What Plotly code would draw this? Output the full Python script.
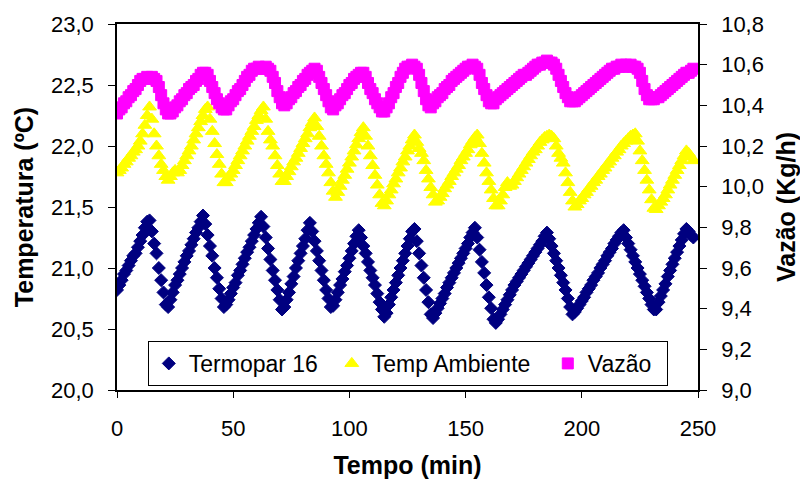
import plotly.graph_objects as go

# Time in minutes (one reading per minute)
tempo = list(range(0, 249))

termopar_16 = [
    20.82, 20.86, 20.90, 20.95, 20.98, 21.02, 21.06, 21.10, 21.12, 21.17,   # 0-9
    21.22, 21.27, 21.33, 21.38, 21.39, 21.30, 21.20, 21.12, 21.00, 20.90,   # 10-19
    20.80, 20.70, 20.68, 20.74, 20.80, 20.86, 20.90, 20.95, 21.00, 21.05,   # 20-29
    21.10, 21.14, 21.19, 21.24, 21.29, 21.33, 21.38, 21.43, 21.36, 21.27,   # 30-39
    21.18, 21.10, 21.00, 20.92, 20.83, 20.75, 20.68, 20.70, 20.74, 20.79,   # 40-49
    20.84, 20.88, 20.94, 20.98, 21.03, 21.08, 21.13, 21.17, 21.22, 21.27,   # 50-59
    21.32, 21.37, 21.42, 21.34, 21.25, 21.16, 21.07, 20.98, 20.90, 20.82,   # 60-69
    20.74, 20.66, 20.68, 20.74, 20.80, 20.87, 20.93, 21.00, 21.06, 21.12,   # 70-79
    21.18, 21.24, 21.31, 21.37, 21.30, 21.22, 21.14, 21.06, 20.98, 20.90,   # 80-89
    20.82, 20.75, 20.68, 20.69, 20.74, 20.80, 20.86, 20.91, 20.97, 21.02,   # 90-99
    21.08, 21.14, 21.20, 21.26, 21.31, 21.25, 21.18, 21.12, 21.05, 20.98,   # 100-109
    20.92, 20.86, 20.79, 20.72, 20.66, 20.60, 20.63, 20.70, 20.76, 20.82,   # 110-119
    20.88, 20.94, 21.00, 21.06, 21.12, 21.18, 21.24, 21.30, 21.32, 21.22,   # 120-129
    21.12, 21.02, 20.92, 20.82, 20.72, 20.62, 20.59, 20.63, 20.67, 20.71,   # 130-139
    20.75, 20.79, 20.84, 20.88, 20.92, 20.96, 21.00, 21.04, 21.08, 21.12,   # 140-149
    21.16, 21.20, 21.25, 21.29, 21.33, 21.25, 21.15, 21.05, 20.96, 20.86,   # 150-159
    20.76, 20.67, 20.58, 20.55, 20.58, 20.62, 20.66, 20.70, 20.74, 20.78,   # 160-169
    20.82, 20.86, 20.89, 20.92, 20.95, 20.98, 21.01, 21.04, 21.07, 21.10,   # 170-179
    21.13, 21.16, 21.19, 21.22, 21.26, 21.29, 21.24, 21.18, 21.12, 21.06,   # 180-189
    21.00, 20.94, 20.88, 20.82, 20.75, 20.68, 20.62, 20.64, 20.67, 20.70,   # 190-199
    20.73, 20.76, 20.80, 20.83, 20.86, 20.90, 20.93, 20.96, 21.00, 21.03,   # 200-209
    21.06, 21.10, 21.13, 21.16, 21.20, 21.23, 21.26, 21.29, 21.31, 21.25,   # 210-219
    21.20, 21.15, 21.10, 21.05, 21.00, 20.95, 20.90, 20.85, 20.80, 20.75,   # 220-229
    20.70, 20.66, 20.66, 20.72, 20.77, 20.82, 20.87, 20.93, 20.98, 21.03,   # 230-239
    21.08, 21.13, 21.18, 21.23, 21.28, 21.32, 21.30, 21.27, 21.25,          # 240-248
]

temp_ambiente = [
    21.78, 21.80, 21.82, 21.85, 21.87, 21.90, 21.92, 21.95, 21.97, 22.00,   # 0-9
    22.04, 22.10, 22.17, 22.25, 22.32, 22.22, 22.10, 22.00, 21.92, 21.85,   # 10-19
    21.80, 21.75, 21.72, 21.75, 21.78, 21.80, 21.78, 21.80, 21.84, 21.88,   # 20-29
    21.92, 21.96, 22.00, 22.05, 22.10, 22.15, 22.20, 22.25, 22.30, 22.32,   # 30-39
    22.22, 22.12, 22.02, 21.93, 21.85, 21.77, 21.70, 21.70, 21.74, 21.77,   # 40-49
    21.80, 21.84, 21.88, 21.92, 21.96, 22.00, 22.04, 22.08, 22.12, 22.16,   # 50-59
    22.21, 22.25, 22.29, 22.32, 22.22, 22.12, 22.05, 22.00, 21.92, 21.84,   # 60-69
    21.77, 21.71, 21.71, 21.75, 21.79, 21.83, 21.87, 21.90, 21.94, 21.98,   # 70-79
    22.02, 22.06, 22.10, 22.15, 22.19, 22.23, 22.16, 22.08, 22.00, 21.92,   # 80-89
    21.85, 21.78, 21.70, 21.63, 21.58, 21.62, 21.67, 21.72, 21.76, 21.81,   # 90-99
    21.86, 21.91, 21.96, 22.01, 22.06, 22.11, 22.15, 22.08, 22.00, 21.92,   # 100-109
    21.84, 21.76, 21.68, 21.60, 21.53, 21.51, 21.55, 21.60, 21.64, 21.69,   # 110-119
    21.73, 21.78, 21.82, 21.87, 21.91, 21.96, 22.00, 22.05, 22.09, 22.03,   # 120-129
    21.98, 21.94, 21.88, 21.80, 21.73, 21.66, 21.60, 21.54, 21.55, 21.58,   # 130-139
    21.61, 21.65, 21.68, 21.71, 21.75, 21.78, 21.81, 21.84, 21.88, 21.91,   # 140-149
    21.94, 21.97, 22.01, 22.04, 22.07, 22.09, 22.02, 21.94, 21.86, 21.78,   # 150-159
    21.71, 21.64, 21.57, 21.51, 21.51, 21.55, 21.60, 21.66, 21.70, 21.67,   # 160-169
    21.68, 21.71, 21.74, 21.77, 21.80, 21.83, 21.86, 21.89, 21.92, 21.95,   # 170-179
    21.97, 22.00, 22.03, 22.05, 22.07, 22.08, 22.09, 22.08, 22.06, 22.00,   # 180-189
    21.94, 21.90, 21.86, 21.78, 21.70, 21.62, 21.55, 21.50, 21.52, 21.55,   # 190-199
    21.57, 21.60, 21.62, 21.65, 21.67, 21.70, 21.72, 21.75, 21.77, 21.80,   # 200-209
    21.82, 21.85, 21.87, 21.90, 21.92, 21.95, 21.97, 22.00, 22.02, 22.04,   # 210-219
    22.06, 22.08, 22.09, 22.10, 22.04, 21.96, 21.88, 21.80, 21.72, 21.64,   # 220-229
    21.56, 21.49, 21.48, 21.51, 21.54, 21.57, 21.60, 21.64, 21.68, 21.72,   # 230-239
    21.76, 21.80, 21.84, 21.88, 21.92, 21.96, 21.94, 21.91, 21.88,          # 240-248
]

vazao = [
    10.36, 10.38, 10.39, 10.41, 10.42, 10.44, 10.45, 10.47, 10.48, 10.50,   # 0-9
    10.52, 10.53, 10.53, 10.54, 10.53, 10.54, 10.53, 10.52, 10.49, 10.45,   # 10-19
    10.41, 10.38, 10.36, 10.36, 10.37, 10.39, 10.40, 10.42, 10.43, 10.45,   # 20-29
    10.46, 10.48, 10.49, 10.50, 10.52, 10.53, 10.55, 10.56, 10.56, 10.55,   # 30-39
    10.52, 10.49, 10.46, 10.43, 10.41, 10.39, 10.38, 10.38, 10.40, 10.42,   # 40-49
    10.43, 10.45, 10.47, 10.48, 10.50, 10.52, 10.54, 10.55, 10.57, 10.58,   # 50-59
    10.58, 10.59, 10.58, 10.58, 10.59, 10.58, 10.57, 10.54, 10.51, 10.47,   # 60-69
    10.44, 10.41, 10.40, 10.41, 10.43, 10.44, 10.46, 10.47, 10.49, 10.50,   # 70-79
    10.52, 10.53, 10.55, 10.56, 10.57, 10.58, 10.57, 10.54, 10.51, 10.48,   # 80-89
    10.45, 10.42, 10.39, 10.38, 10.40, 10.41, 10.43, 10.45, 10.46, 10.48,   # 90-99
    10.50, 10.51, 10.53, 10.54, 10.55, 10.56, 10.56, 10.54, 10.51, 10.48,   # 100-109
    10.46, 10.43, 10.41, 10.39, 10.37, 10.37, 10.39, 10.41, 10.44, 10.46,   # 110-119
    10.49, 10.51, 10.54, 10.56, 10.58, 10.59, 10.59, 10.60, 10.59, 10.58,   # 120-129
    10.55, 10.51, 10.47, 10.43, 10.40, 10.39, 10.41, 10.42, 10.44, 10.45,   # 130-139
    10.46, 10.48, 10.49, 10.50, 10.52, 10.53, 10.54, 10.55, 10.56, 10.57,   # 140-149
    10.58, 10.59, 10.59, 10.60, 10.59, 10.58, 10.55, 10.51, 10.48, 10.45,   # 150-159
    10.42, 10.41, 10.41, 10.43, 10.44, 10.45, 10.46, 10.47, 10.48, 10.49,   # 160-169
    10.50, 10.51, 10.52, 10.53, 10.54, 10.55, 10.55, 10.56, 10.57, 10.58,   # 170-179
    10.59, 10.60, 10.60, 10.61, 10.61, 10.62, 10.61, 10.61, 10.60, 10.58,   # 180-189
    10.55, 10.52, 10.49, 10.46, 10.44, 10.42, 10.42, 10.42, 10.43, 10.44,   # 190-199
    10.45, 10.46, 10.47, 10.48, 10.49, 10.50, 10.51, 10.52, 10.53, 10.54,   # 200-209
    10.55, 10.56, 10.57, 10.58, 10.58, 10.59, 10.59, 10.60, 10.59, 10.60,   # 210-219
    10.59, 10.60, 10.59, 10.59, 10.58, 10.56, 10.52, 10.48, 10.45, 10.43,   # 220-229
    10.43, 10.43, 10.44, 10.44, 10.45, 10.46, 10.47, 10.48, 10.49, 10.50,   # 230-239
    10.51, 10.52, 10.53, 10.54, 10.55, 10.56, 10.56, 10.57, 10.58,          # 240-248
]

x_ticks = [0, 50, 100, 150, 200, 250]
temp_ticks = [20.0, 20.5, 21.0, 21.5, 22.0, 22.5, 23.0]
vazao_ticks = [9.0, 9.2, 9.4, 9.6, 9.8, 10.0, 10.2, 10.4, 10.6, 10.8]

FONT = "Liberation Sans, Arial, sans-serif"

def fmt(v, d):
    return f"{v:.{d}f}".replace(".", ",")

fig = go.Figure()
fig.add_trace(go.Scatter(
    x=tempo, y=termopar_16, mode="markers", name="Termopar 16",
    marker=dict(symbol="diamond", size=10, color="#000080",
                line=dict(width=1, color="#000080")),
    legendwidth=138, yaxis="y",
))
fig.add_trace(go.Scatter(
    x=tempo, y=temp_ambiente, mode="markers", name="Temp Ambiente",
    marker=dict(symbol="triangle-up", size=12, color="#FFFF00",
                line=dict(width=1, color="#FFFF00")),
    legendwidth=171, yaxis="y",
))
fig.add_trace(go.Scatter(
    x=tempo, y=vazao, mode="markers", name="Vazão",
    marker=dict(symbol="square", size=11, color="#FF00FF",
                line=dict(width=1, color="#FF00FF")),
    legendwidth=74, yaxis="y2",
))

TITLE_FONT = dict(family=FONT, size=25, color="black")

fig.update_layout(
    width=800, height=482,
    margin=dict(l=117, r=102, t=24, b=92, autoexpand=False),
    paper_bgcolor="white", plot_bgcolor="white",
    font=dict(family=FONT, size=22, color="black"),
    showlegend=True,
    legend=dict(
        orientation="h", x=0.053, y=0.134, xanchor="left", yanchor="top",
        bgcolor="white", bordercolor="black", borderwidth=1,
        font=dict(family=FONT, size=23, color="black"),
        itemsizing="trace",
    ),
    xaxis=dict(
        range=[0, 250], tickmode="array", tickvals=x_ticks,
        ticktext=[str(v) for v in x_ticks], automargin=False,
        ticks="outside", ticklen=6, tickwidth=1, tickcolor="black",
        showline=True, linecolor="black", linewidth=1.5, mirror=True,
        showgrid=False, zeroline=False, ticklabelstandoff=12,
        title=dict(text="<b>Tempo (min)</b>", standoff=16, font=TITLE_FONT),
    ),
    yaxis=dict(
        range=[20.0, 23.0], tickmode="array", tickvals=temp_ticks,
        ticktext=[fmt(v, 1) for v in temp_ticks], automargin=False,
        ticks="outside", ticklen=7, tickwidth=1, tickcolor="black",
        showline=True, linecolor="black", linewidth=1.5,
        showgrid=False, zeroline=False, ticklabelstandoff=10,
        title=dict(text="<b>Temperatura (ºC)</b>", standoff=10, font=TITLE_FONT),
    ),
    yaxis2=dict(
        range=[9.0, 10.8], tickmode="array", tickvals=vazao_ticks,
        ticktext=[fmt(v, 1) for v in vazao_ticks], automargin=False,
        overlaying="y", side="right", anchor="x",
        ticks="outside", ticklen=7, tickwidth=1, tickcolor="black",
        showline=True, linecolor="black", linewidth=1.5,
        showgrid=False, zeroline=False, ticklabelstandoff=10,
        title=dict(text="<b>Vazão (Kg/h)</b>", standoff=16, font=TITLE_FONT),
    ),
    yaxis3=dict(
        range=[9.0, 10.8], tickmode="array", tickvals=vazao_ticks,
        overlaying="y", side="right", anchor="x", automargin=False,
        ticks="inside", ticklen=7, tickwidth=1, tickcolor="black",
        showticklabels=False, showline=False, showgrid=False, zeroline=False,
    ),
)

fig.write_html("out.html")
